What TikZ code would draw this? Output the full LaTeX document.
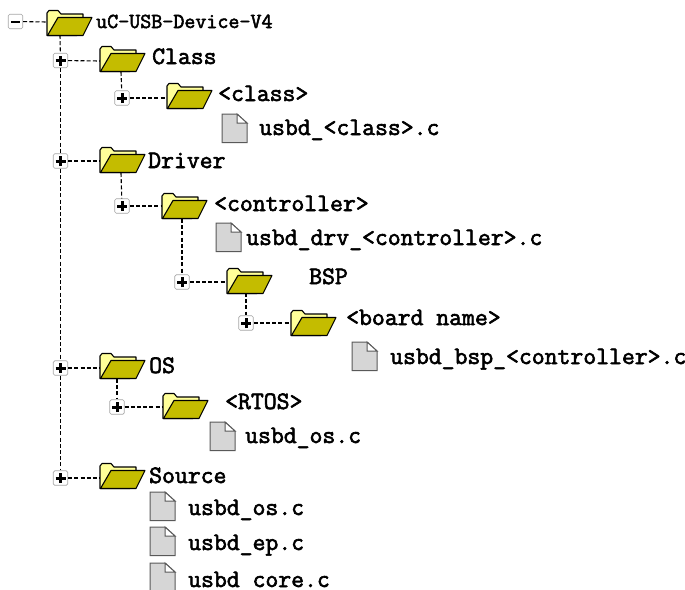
\documentclass[tikz,border=0pt]{standalone}
\usepackage{fontspec}
\newfontfamily\labfont{Latin Modern Mono}[FakeBold=2.4]
\definecolor{fback}{HTML}{FFFF99}
\definecolor{ffront}{HTML}{C4BC00}
\definecolor{fileg}{HTML}{D6D6D6}
\newcommand{\folderat}[3]{%
  \node[anchor=north west,inner sep=0pt,minimum width=45,minimum height=26] (#1) at (#2,#3) {};
  \begin{scope}[shift={(#2,#3)}]
    \draw[folderline,fill=fback] (0,25.5) -- (0,3) -- (2,0.5) -- (11,0.5) -- (14,4) -- (36,4) -- (36,8) -- (30,25.5) -- cycle;
    \draw[folderline,fill=ffront] (0.5,25.5) -- (11,7.5) -- (45,7.5) -- (36,25.5) -- cycle;
  \end{scope}}
\newcommand{\fileat}[3]{%
  \node[anchor=north west,inner sep=0pt,minimum width=26,minimum height=29] (#1) at (#2,#3) {};
  \begin{scope}[shift={(#2,#3)}]
    \draw[fileline,fill=fileg] (0,0) -- (15,0) -- (25,9) -- (25,28.5) -- (0,28.5) -- cycle;
    \draw[fileline,fill=white] (15,0) -- (15,9) -- (25,9) -- cycle;
  \end{scope}}
\tikzset{
  x=1pt,y=-1pt,
  folderline/.style={draw=black,line width=1.1pt,line join=round},
  fileline/.style={draw=black!65,line width=1pt,line join=miter},
  conn/.style={draw=black,line width=1.1pt,dash pattern=on 4pt off 2.2pt},
  togglebox/.style={draw=black!35,fill=white,rounded corners=1.5pt,line width=0.7pt,minimum size=14.5,inner sep=0pt},
  lbl/.style={anchor=base west,inner sep=0pt,font=\fontsize{25}{26}\selectfont\labfont},
  lblroot/.style={anchor=base west,inner sep=0pt,font=\fontsize{21.4}{26}\selectfont\labfont},
}
\begin{document}
\begin{tikzpicture}
\useasboundingbox (0,0) rectangle (685,589);
\clip (0,0) rectangle (685,589);
\coordinate (rootv) at (60,35);
\coordinate (classv) at (121,72);
\coordinate (drvv) at (121,173);
\coordinate (ctrlv) at (182,219);
\coordinate (bspv) at (246,293);
\coordinate (osv) at (117,379);
% folder attachment points
\coordinate (f0w) at (47,22);
\coordinate (f1w) at (100,61);
\coordinate (f2w) at (167,98);
\coordinate (f3w) at (100,161);
\coordinate (f4w) at (162,206);
\coordinate (f5w) at (227,282);
\coordinate (f6w) at (291,323);
\coordinate (f7w) at (100,368);
\coordinate (f8w) at (163,407);
\coordinate (f9w) at (100,478);
% toggle boxes
\node[togglebox] (t0) at (15.5,21.5) {\rule{9pt}{2pt}};
\foreach \n/\x/\y in {1/60.5/60.5,2/122/98,3/60.5/161,4/122/206,5/182/282,6/246/323,7/60.5/368,8/117/407,9/60.5/478}
  \node[togglebox] (t\n) at (\x,\y) {\rule{10pt}{3pt}\llap{\rule[-3.5pt]{3pt}{10pt}\hspace{3.5pt}}};
% connectors
\draw[conn] (rootv) -- (t1);
\draw[conn] (t1) -- (t3);
\draw[conn] (t3) -- (t7);
\draw[conn] (t7) -- (t9);
\draw[conn] (classv) -- (t2);
\draw[conn] (drvv) -- (t4);
\draw[conn] (ctrlv) -- (t5);
\draw[conn] (bspv) -- (t6);
\draw[conn] (osv) -- (t8);
\foreach \i in {0,...,9} \draw[conn] (t\i) -- (f\i w);
% folders
\folderat{f0}{47}{10}
\folderat{f1}{100}{46}
\folderat{f2}{167}{83}
\folderat{f3}{100}{147}
\folderat{f4}{162}{193}
\folderat{f5}{227}{268}
\folderat{f6}{291}{310}
\folderat{f7}{100}{353}
\folderat{f8}{163}{393}
\folderat{f9}{100}{463}
% files
\fileat{g1}{222}{114}
\fileat{g2}{216}{223}
\fileat{g3}{352}{342}
\fileat{g4}{210}{422}
\fileat{g5}{150}{492}
\fileat{g6}{150}{527}
\fileat{g7}{150}{563}
% labels
\node[lblroot] (l0) at (96,28) {uC-USB-Device-V4};
\node[lbl] (l1) at (152,64) {Class};
\node[lbl] (l2) at (218,101) {<class>};
\node[lbl] (l3) at (259,135) {usbd\_<class>.c};
\node[lbl] (l4) at (148,168) {Driver};
\node[lbl] (l5) at (214,211) {<controller>};
\node[lbl] (l6) at (246,245) {usbd\_drv\_<controller>.c};
\node[lbl] (l7) at (309,284) {BSP};
\node[lbl] (l8) at (346,325) {<board name>};
\node[lbl] (l9) at (390,364) {usbd\_bsp\_<controller>.c};
\node[lbl] (l10) at (149,373) {OS};
\node[lbl] (l11) at (225,409) {<RTOS>};
\node[lbl] (l12) at (245,443) {usbd\_os.c};
\node[lbl] (l13) at (149,483) {Source};
\node[lbl] (l14) at (188,515) {usbd\_os.c};
\node[lbl] (l15) at (188,550) {usbd\_ep.c};
\node[lbl] (l16) at (188,587) {usbd\_core.c};
\end{tikzpicture}
\end{document}
